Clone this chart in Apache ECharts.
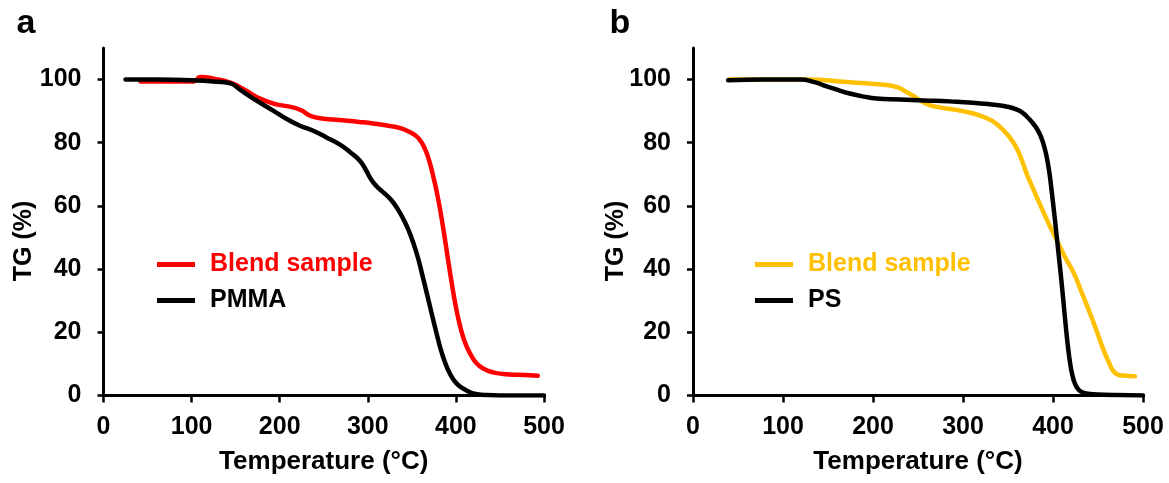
<!DOCTYPE html>
<html><head><meta charset="utf-8">
<script src="https://cdn.jsdelivr.net/npm/echarts@6/dist/echarts.min.js"></script>
<style>html,body{margin:0;padding:0;background:#fff}#c{width:1169px;height:483px}</style>
</head><body><div id="c"></div>
<script>
// ---- data ----
const yTickValues = [0, 20, 40, 60, 80, 100];
const xTickValues = [0, 100, 200, 300, 400, 500];

// panel a: Blend sample (red)
const blendA_T  = [42, 80, 102, 110, 125, 144, 160, 175, 193, 215, 225, 235, 250, 268, 290, 306, 325, 337, 348, 355, 360, 365, 370, 375, 380, 385, 390, 395, 400, 405, 410, 416, 423, 431, 442, 454, 470, 484, 493];
const blendA_TG = [99.4, 99.4, 99.4, 100.8, 100.3, 99, 96.8, 94.3, 92.4, 91.2, 90.2, 88.5, 87.6, 87.2, 86.6, 86.1, 85.3, 84.6, 83.3, 82.1, 80.5, 78, 74, 68.5, 62, 54, 45, 36, 28, 21.7, 17, 13.3, 10.3, 8.5, 7.3, 6.8, 6.5, 6.4, 6.2];
// panel a: PMMA (black)
const pmma_T  = [25, 60, 100, 130, 144, 155, 170, 193, 208, 223, 238, 253, 268, 280, 291, 298, 304, 310, 316, 322, 328, 334, 340, 346, 352, 357, 362, 367, 372, 377, 382, 387, 393, 400, 408, 416, 424, 435, 450, 500];
const pmma_TG = [100, 100, 99.8, 99.3, 98.8, 96.8, 94, 90.1, 87.5, 85.4, 83.8, 81.7, 79.5, 77, 74.3, 71.3, 68.3, 66.2, 64.7, 63.2, 61.4, 59, 56, 52.5, 48, 43.5, 38, 32.3, 26.5, 20.8, 15.4, 11, 7, 4, 2.2, 1, 0.4, 0.1, 0, 0];
// panel b: Blend sample (yellow)
const blendB_T  = [40, 100, 130, 160, 182, 205, 226, 237, 245, 252, 263, 278, 293, 308, 322, 332, 340, 348, 355, 361, 366, 371, 377, 384, 395, 404, 413, 423, 432, 441, 449, 456, 462, 467, 472, 478, 491];
const blendB_TG = [100, 100, 100, 99.5, 99, 98.5, 97.7, 96.1, 94.8, 93.5, 91.9, 91, 90.4, 89.5, 88.3, 87, 85.3, 83, 80.5, 77.5, 74, 70, 66, 61.5, 54.5, 49.3, 44, 38.8, 32.5, 26.1, 20, 14.5, 10.5, 7.7, 6.6, 6.3, 6.1];
// panel b: PS (black)
const ps_T  = [39, 80, 119, 135, 145, 160, 174, 190, 204, 230, 256, 285, 311, 335, 348, 360, 367, 372, 377, 382, 386, 390, 393, 396, 399, 402, 405, 408, 411, 414, 417, 420, 423, 426, 430, 437, 449, 470, 500];
const ps_TG = [99.8, 100, 100, 99.2, 98.2, 96.8, 95.6, 94.6, 94, 93.7, 93.4, 93.1, 92.7, 92, 91.5, 90.5, 89.3, 88, 86.4, 84.5, 82.3, 79, 75.5, 70.5, 63.5, 56, 48, 40, 31.5, 22.5, 14.5, 8.5, 4.8, 2.8, 1.4, 0.6, 0.3, 0.1, 0];

const pair = (xs, ys) => xs.map((x, i) => [x, ys[i]]);
const FONT = 'Liberation Sans, Arial, sans-serif';
const RED = '#FF0000', GOLD = '#FFC000', BLACK = '#000000';

function xAxisCfg(gi) {
  return {
    type: 'value', gridIndex: gi, min: 0, max: 500, interval: 100,
    name: 'Temperature (°C)', nameLocation: 'middle', nameGap: 53,
    nameTextStyle: { fontSize: 26, fontWeight: 'bold', fontFamily: FONT, color: BLACK },
    axisLine: { lineStyle: { color: BLACK, width: 3 } },
    axisTick: { show: true, length: 7, lineStyle: { color: BLACK, width: 2.5 } },
    axisLabel: { fontSize: 25, fontWeight: 'bold', fontFamily: FONT, color: BLACK, margin: 19 },
    splitLine: { show: false }
  };
}
function yAxisCfg(gi) {
  return {
    type: 'value', gridIndex: gi, min: 0, max: 110, interval: 20,
    axisLine: { show: true, lineStyle: { color: BLACK, width: 3 } },
    axisTick: { show: true, length: 6, lineStyle: { color: BLACK, width: 2.5 }, customValues: yTickValues },
    axisLabel: { fontSize: 25, fontWeight: 'bold', fontFamily: FONT, color: BLACK, margin: 22, customValues: yTickValues },
    splitLine: { show: false }
  };
}
function lineSeries(name, xi, data, color, z) {
  return {
    type: 'line', name: name, xAxisIndex: xi, yAxisIndex: xi, data: data,
    showSymbol: false, symbol: 'none', smooth: 0.5, z: z,
    lineStyle: { color: color, width: 4.5, cap: 'round', join: 'round' }, itemStyle: { color: color }
  };
}
function legendCfg(left, items) {
  return {
    left: left, top: 252, padding: 0, orient: 'vertical', icon: 'rect', itemWidth: 38, itemHeight: 5, itemGap: 11,
    selectedMode: false,
    textStyle: { fontSize: 25, fontWeight: 'bold', fontFamily: FONT, padding: [0, 0, 0, 10] },
    data: items.map(([n, c]) => ({ name: n, itemStyle: { color: c }, textStyle: { color: c } }))
  };
}
function txt(x, y, text, size, rot) {
  return { type: 'text', x: x, y: y, rotation: rot || 0,
    style: { text: text, fontSize: size, fontWeight: 'bold', fontFamily: FONT, fill: BLACK, align: 'center', verticalAlign: 'middle' } };
}

const chart = echarts.init(document.getElementById('c'), null, { renderer: 'canvas' });
chart.setOption({
  backgroundColor: '#fff',
  animation: false,
  grid: [
    { left: 103.5, right: 625, top: 48, bottom: 87.6 },
    { left: 693, right: 26, top: 48, bottom: 87.6 }
  ],
  xAxis: [xAxisCfg(0), xAxisCfg(1)],
  yAxis: [yAxisCfg(0), yAxisCfg(1)],
  legend: [
    legendCfg(157, [['Blend sample', RED], ['PMMA', BLACK]]),
    legendCfg(755, [['Blend sample', GOLD], ['PS', BLACK]])
  ],
  series: [
    lineSeries('Blend sample', 0, pair(blendA_T, blendA_TG), RED, 2),
    lineSeries('PMMA', 0, pair(pmma_T, pmma_TG), BLACK, 3),
    lineSeries('Blend sample', 1, pair(blendB_T, blendB_TG), GOLD, 2),
    lineSeries('PS', 1, pair(ps_T, ps_TG), BLACK, 3)
  ],
  graphic: [
    txt(26, 24, 'a', 34, 0),
    txt(620, 24, 'b', 34, 0),
    txt(24, 241, 'TG (%)', 25, Math.PI / 2),
    txt(616, 241, 'TG (%)', 25, Math.PI / 2)
  ]
});
</script></body></html>
